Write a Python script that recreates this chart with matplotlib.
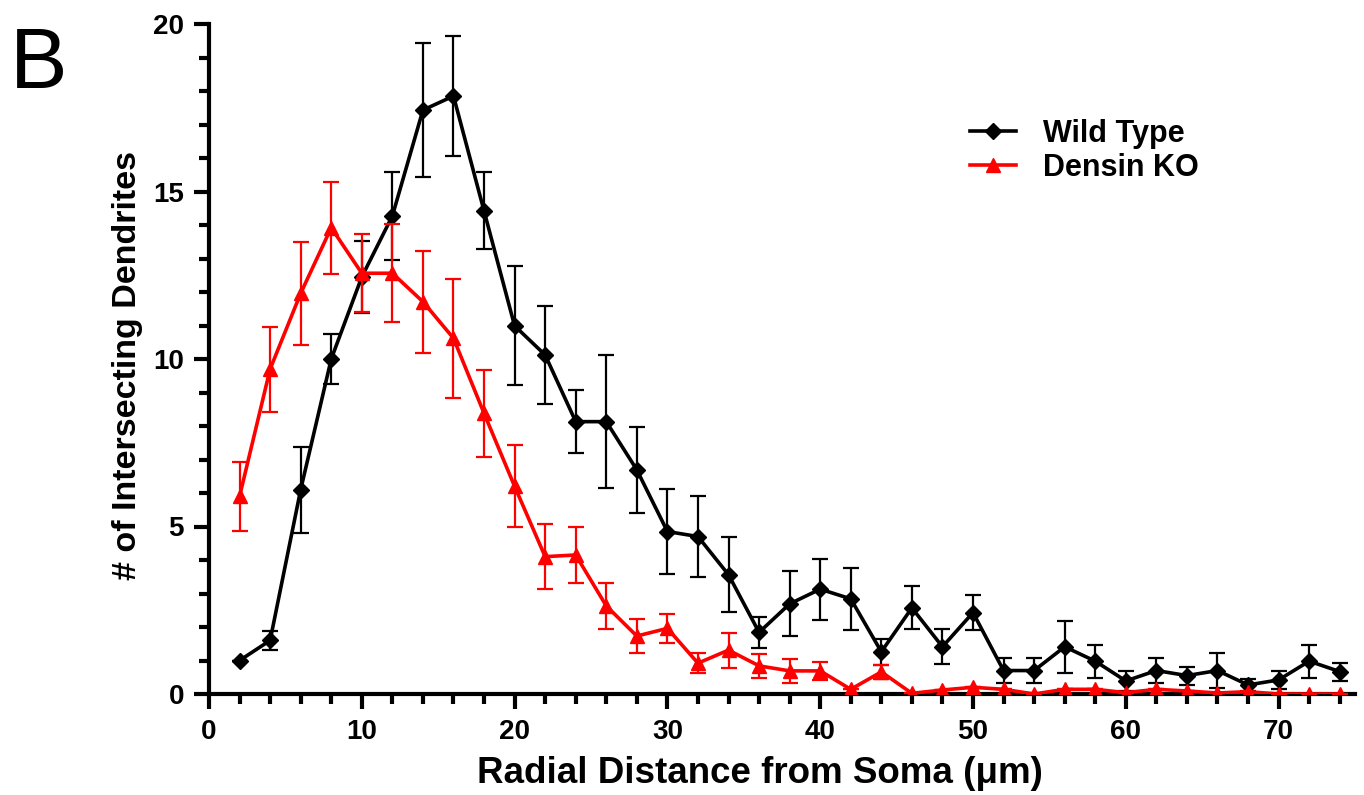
# -*- coding: utf-8 -*-
import numpy as np
from matplotlib import pyplot as plt
from matplotlib.ticker import MultipleLocator
from matplotlib import font_manager

# radial distance (um)
radius = list(range(2, 76, 2))

wild_type = [1.0, 1.6, 6.1, 10.0, 12.45, 14.27, 17.43, 17.85, 14.42, 10.99,
             10.12, 8.13, 8.13, 6.69, 4.85, 4.70, 3.56, 1.84, 2.69, 3.13,
             2.84, 1.26, 2.57, 1.41, 2.43, 0.70, 0.70, 1.41, 0.98, 0.39,
             0.70, 0.55, 0.70, 0.27, 0.42, 0.98, 0.67]
wild_type_err = [0.0, 0.28, 1.28, 0.75, 1.07, 1.32, 2.0, 1.8, 1.15, 1.78,
                 1.46, 0.93, 1.99, 1.28, 1.27, 1.2, 1.12, 0.47, 0.97, 0.91,
                 0.93, 0.38, 0.64, 0.52, 0.52, 0.38, 0.38, 0.78, 0.49, 0.3,
                 0.37, 0.27, 0.52, 0.17, 0.28, 0.49, 0.27]

densin_ko = [5.9, 9.7, 11.96, 13.92, 12.56, 12.56, 11.71, 10.62, 8.38, 6.2,
             4.1, 4.15, 2.63, 1.73, 1.96, 0.92, 1.31, 0.84, 0.69, 0.69,
             0.14, 0.66, 0.02, 0.12, 0.2, 0.14, 0.0, 0.14, 0.14, 0.04,
             0.14, 0.09, 0.03, 0.07, 0.0, 0.0, 0.0]
densin_ko_err = [1.02, 1.27, 1.53, 1.37, 1.17, 1.46, 1.52, 1.78, 1.3, 1.22,
                 0.96, 0.85, 0.69, 0.52, 0.44, 0.3, 0.52, 0.35, 0.35, 0.28,
                 0.0, 0.22, 0.0, 0.0, 0.0, 0.0, 0.0, 0.0, 0.0, 0.0,
                 0.0, 0.0, 0.0, 0.0, 0.0, 0.0, 0.0]

plt.rcParams['font.family'] = ['Liberation Sans', 'DejaVu Sans']

names = {f.name for f in font_manager.fontManager.ttflist}
narrow = 'Liberation Sans Narrow' if 'Liberation Sans Narrow' in names else 'Liberation Sans'

fig = plt.figure(figsize=(13.64, 7.95), dpi=100)
ax = fig.add_axes([209 / 1364, 1 - 694 / 795, (1355 - 209) / 1364, (694 - 24) / 795])

wt = ax.errorbar(radius, wild_type, yerr=wild_type_err, color='black', marker='D',
                 markersize=8, linewidth=2.6, elinewidth=1.6, capsize=6, capthick=1.6,
                 zorder=3)
ko = ax.errorbar(radius, densin_ko, yerr=densin_ko_err, color='#ff0000', marker='^',
                 markersize=10, linewidth=2.6, elinewidth=1.6, capsize=6, capthick=1.6,
                 zorder=4)

ax.set_xlim(0, 75)
ax.set_ylim(0, 20)
ax.xaxis.set_major_locator(MultipleLocator(10))
ax.xaxis.set_minor_locator(MultipleLocator(2))
ax.yaxis.set_major_locator(MultipleLocator(5))
ax.yaxis.set_minor_locator(MultipleLocator(1))

for side in ['top', 'right']:
    ax.spines[side].set_visible(False)
for side in ['left', 'bottom']:
    ax.spines[side].set_linewidth(3)
    ax.spines[side].set_clip_on(False)

ax.tick_params(which='major', direction='out', length=11, width=3, pad=7)
ax.tick_params(which='minor', direction='out', length=7, width=3)
for lbl in ax.get_xticklabels() + ax.get_yticklabels():
    lbl.set_fontsize(20)
    lbl.set_fontweight('bold')

ax.set_xlabel('Radial Distance from Soma (\u03bcm)', fontsize=26.5, fontweight='bold')
ax.xaxis.set_label_coords(0.481, -0.092)
ax.set_ylabel('# of Intersecting Dendrites', fontsize=24.5, fontweight='bold',
              family=[narrow, 'DejaVu Sans'])
ax.yaxis.set_label_coords(-0.058, 0.49)

leg = ax.legend([wt.lines[0], ko.lines[0]], ['Wild Type', 'Densin KO'],
                loc='upper left', bbox_to_anchor=(0.64, 0.9), frameon=False,
                fontsize=22, handlelength=1.5, handletextpad=0.9, labelspacing=0.15)
for txt in leg.get_texts():
    txt.set_fontweight('bold')

fig.text(10 / 1364, 1 - 88 / 795, 'B', fontsize=62)

fig.savefig('out.png', dpi=100)
